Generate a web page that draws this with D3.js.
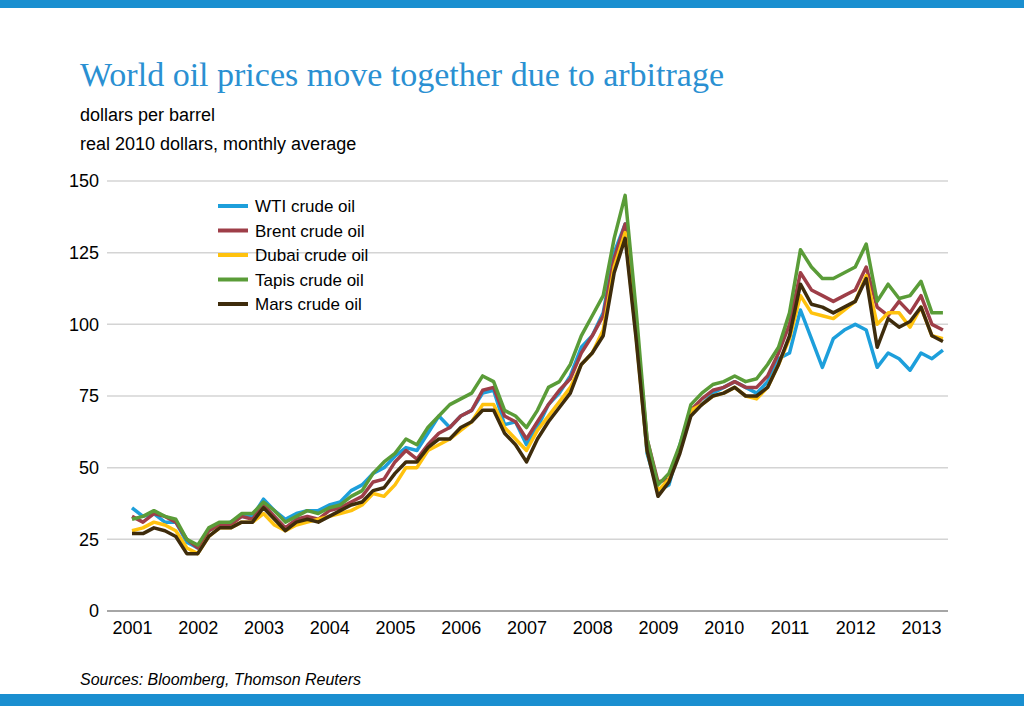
<!DOCTYPE html><html><head><meta charset="utf-8">
<script src="https://cdn.jsdelivr.net/npm/d3@7"></script>
<style>body{margin:0;background:#fff}</style></head><body>
<svg id="c" width="1024" height="706"></svg>
<script>
const yearTicks=[2001,2002,2003,2004,2005,2006,2007,2008,2009,2010,2011,2012,2013];
const yTicks=[0,25,50,75,100,125,150];
const seriesNames=["WTI crude oil","Brent crude oil","Dubai crude oil","Tapis crude oil","Mars crude oil"];
const colors=["#1d9fdb","#9e3e48","#ffc20e","#5a9c38","#3e2c0c"];
const wti=[36,33,34,31,31,24, 22,28,30,31,33,33, 39,35,32,34,35,35, 37,38,42,44,48,50, 54,57,56,62,68,64, 68,70,76,77,65,66, 58,64,72,76,82,92, 96,104,125,135,100,55, 42,44,58,70,72,76, 78,80,78,76,80,88, 90,105,95,85,95,98, 100,98,85,90,88,84, 90,88,91];
const brent=[33,31,34,33,31,25, 22,28,30,30,33,32, 37,33,29,32,33,32, 35,36,38,40,45,46, 52,56,53,58,62,64, 68,70,77,78,68,66, 60,66,72,77,81,90, 96,103,123,135,100,60, 45,46,56,70,74,77, 78,80,78,78,82,90, 100,118,112,110,108,110, 112,120,106,103,108,104, 110,100,98];
const dubai=[28,29,31,30,28,22, 20,26,29,29,31,31, 34,30,28,30,31,32, 33,34,35,37,41,40, 44,50,50,56,58,60, 63,66,72,72,64,60, 56,63,68,73,78,86, 90,98,120,132,96,56, 42,46,56,70,72,75, 76,78,75,74,78,86, 95,110,104,103,102,105, 108,117,100,104,104,99, 106,96,95];
const tapis=[32,33,35,33,32,25, 23,29,31,31,34,34, 38,35,31,33,35,34, 36,37,40,42,48,52, 55,60,58,64,68,72, 74,76,82,80,70,68, 64,70,78,80,86,96, 103,110,130,145,105,60, 44,48,58,72,76,79, 80,82,80,81,86,92, 104,126,120,116,116,118, 120,128,108,114,109,110, 115,104,104];
const mars=[27,27,29,28,26,20, 20,26,29,29,31,31, 36,32,28,31,32,31, 33,35,37,38,42,43, 48,52,52,57,60,60, 64,66,70,70,62,58, 52,60,66,71,76,86, 90,96,118,130,95,56, 40,45,55,68,72,75, 76,78,75,75,78,86, 96,114,107,106,104,106, 108,116,92,102,99,101, 106,96,94];
const all=[wti,brent,dubai,tapis,mars];
const svg=d3.select("#c");
const F="Liberation Sans, Arial, sans-serif";
svg.append("rect").attr("x",0).attr("y",0).attr("width",1024).attr("height",8).attr("fill","#1a8fd0");
svg.append("rect").attr("x",0).attr("y",694).attr("width",1024).attr("height",12).attr("fill","#1a8fd0");
const x=d3.scaleLinear().domain([2001,2013]).range([132,921]);
const y=d3.scaleLinear().domain([0,150]).range([611,181]);
svg.append("text").attr("x",80).attr("y",86).attr("fill","#2a90d2").attr("font-family","Liberation Serif, serif").attr("font-size",34).text("World oil prices move together due to arbitrage");
svg.append("text").attr("x",80).attr("y",121).attr("font-family",F).attr("font-size",18).text("dollars per barrel");
svg.append("text").attr("x",80).attr("y",150).attr("font-family",F).attr("font-size",18).text("real 2010 dollars, monthly average");
svg.append("text").attr("x",80).attr("y",685).attr("font-family",F).attr("font-size",16).attr("font-style","italic").text("Sources: Bloomberg, Thomson Reuters");
svg.append("g").selectAll("line").data(yTicks).join("line")
 .attr("x1",107).attr("x2",948).attr("y1",d=>y(d)).attr("y2",d=>y(d))
 .attr("stroke",d=>d===0?"#888":"#d4d4d4").attr("stroke-width",1.5);
const ya=d3.axisLeft(y).tickValues(yTicks).tickSize(0).tickPadding(8);
const gy=svg.append("g").attr("transform","translate(107,0)").call(ya);
gy.select(".domain").remove();
gy.selectAll("text").attr("font-family",F).attr("font-size",18).attr("fill","#000");
const xa=d3.axisBottom(x).tickValues(yearTicks).tickFormat(d3.format("d")).tickSize(0).tickPadding(10);
const gx=svg.append("g").attr("transform","translate(0,611)").call(xa);
gx.select(".domain").remove();
gx.selectAll("text").attr("font-family",F).attr("font-size",18).attr("fill","#000");
const line=d3.line().x((d,i)=>x(2001+i/6)).y(d=>y(d));
all.forEach((s,k)=>{
 svg.append("path").datum(s).attr("d",line).attr("fill","none").attr("stroke",colors[k]).attr("stroke-width",3.5).attr("stroke-linejoin","round");
});
const lg=svg.append("g");
seriesNames.forEach((n,i)=>{
 const yy=206+i*24.5;
 lg.append("line").attr("x1",218).attr("x2",248).attr("y1",yy).attr("y2",yy).attr("stroke",colors[i]).attr("stroke-width",4);
 lg.append("text").attr("x",255).attr("y",yy+6).attr("font-family",F).attr("font-size",17).text(n);
});
</script></body></html>
